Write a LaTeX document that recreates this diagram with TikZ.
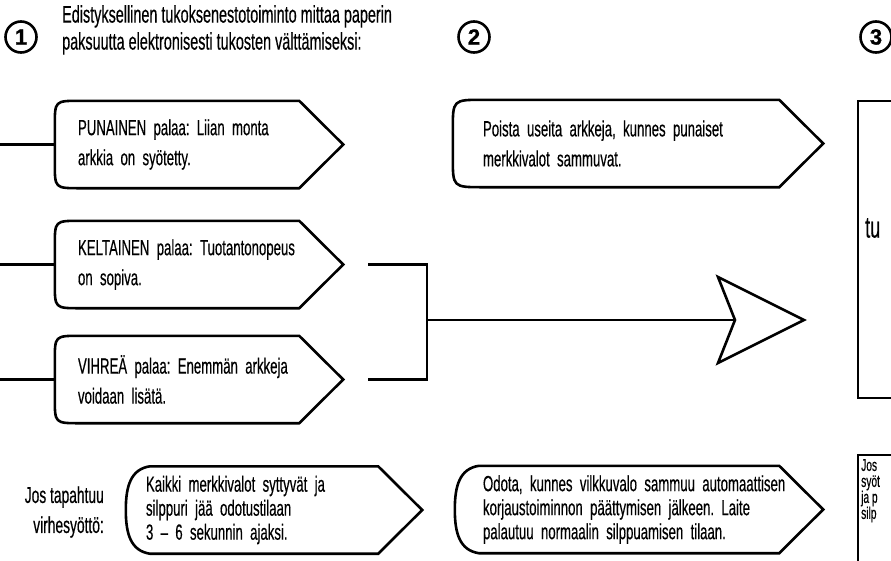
\documentclass[tikz,border=0pt]{standalone}
\usepackage{fontspec}
\setmainfont{Liberation Sans}[FakeStretch=0.6,FakeBold=0.4]
\newfontfamily\numfont{Liberation Sans}[FakeBold=1]
\frenchspacing
\usetikzlibrary{positioning,arrows.meta}

\tikzset{
  tagline/.style={line width=2.6pt, line join=miter},
  tagtext/.style={font=\fontsize{22}{30}\selectfont, align=left, inner ysep=0pt, minimum height=87pt},
  lowtext/.style={font=\fontsize{22}{24}\selectfont, align=left, inner ysep=0pt, minimum height=87pt},
  stepnum/.style={circle, draw, line width=2.6pt, minimum size=31pt, inner sep=0pt,
    font=\numfont\bfseries\fontsize{22}{22}\selectfont},
}
\newcommand\tagoutline[2]{%
  \draw[tagline] ([xshift=-44pt]#1.north east) -- (#1.east) -- ([xshift=-44pt]#1.south east)
    -- ([xshift=#2]#1.south west) .. controls (#1.south west) .. ([yshift=#2]#1.south west)
    -- ([yshift=-#2]#1.north west) .. controls (#1.north west) .. ([xshift=#2]#1.north west) -- cycle;}
\newcommand\tagoval[1]{%
  \draw[tagline] ([xshift=-44pt]#1.north east) -- (#1.east) -- ([xshift=-44pt]#1.south east)
    -- ([xshift=24pt]#1.south west) .. controls ([xshift=5pt,yshift=3pt]#1.south west) and ([yshift=-24pt]#1.west) .. (#1.west)
    .. controls ([yshift=24pt]#1.west) and ([xshift=5pt,yshift=-3pt]#1.north west) .. ([xshift=24pt]#1.north west) -- cycle;}

\begin{document}
\begin{tikzpicture}[x=1pt,y=-1pt]
  \useasboundingbox (0,0) rectangle (891,560);
  \node[stepnum] (s1) at (21,37) {1};
  \node[stepnum] (s2) at (474,37) {2};
  \node[stepnum] (s3) at (876,37) {3};
  \node[anchor=north west, align=left, inner sep=0pt, font=\fontsize{24}{27}\selectfont] (head) at (62,5)
    {Edistyksellinen tukoksenestotoiminto mittaa paperin\\paksuutta elektronisesti tukosten välttämiseksi:};

  \node[tagtext, text width=242pt, inner xsep=23pt] (pun) at (199,144.5) {PUNAINEN palaa: Liian monta\\arkkia on syötetty.};
  \node[tagtext, text width=242pt, inner xsep=23pt] (kel) at (199,264.5) {KELTAINEN palaa: Tuotantonopeus\\on sopiva.};
  \node[tagtext, text width=242pt, inner xsep=23pt] (vih) at (199,379.5) {VIHREÄ palaa: Enemmän arkkeja\\voidaan lisätä.};
  \tagoutline{pun}{25pt}
  \tagoutline{kel}{25pt}
  \tagoutline{vih}{25pt}

  \node[tagtext, text width=310pt, inner xsep=30pt] (poi) at (638,143.5) {Poista useita arkkeja, kunnes punaiset\\merkkivalot sammuvat.};
  \tagoutline{poi}{30pt}

  \coordinate (in1) at (0,144.5);
  \coordinate (in2) at (0,264.5);
  \coordinate (in3) at (0,379.5);
  \draw[tagline] (in1) -- (pun.west);
  \draw[tagline] (in2) -- (kel.west);
  \draw[tagline] (in3) -- (vih.west);

  \coordinate (b1) at (368,264.5);
  \coordinate (b2) at (368,379.5);
  \coordinate (bm) at (427,320);
  \coordinate (notch) at (735,320);
  \draw[tagline] (b1) -| (bm) |- (b2);
  \draw[tagline] (bm) -- (notch);
  \draw[tagline] (718,277) -- (804,320) -- (718,363) -- (notch) -- cycle;

  \draw[tagline] (858,101) rectangle (905,398);
  \node[anchor=west, inner sep=0pt, font=\fontsize{30}{30}\selectfont] (goal) at (865,228) {tu};

  \node[anchor=east, align=right, inner sep=0pt, font=\fontsize{23}{30}\selectfont] (err) at (104,512) {Jos tapahtuu\\virhesyöttö:};
  \node[lowtext, text width=256pt, inner xsep=20pt] (kai) at (274,510) {Kaikki merkkivalot syttyvät ja\\silppuri jää odotustilaan\\3 – 6 sekunnin ajaksi.};
  \tagoval{kai}
  \node[lowtext, text width=312pt, inner xsep=28pt] (odo) at (639,509.5) {Odota, kunnes vilkkuvalo sammuu automaattisen\\korjaustoiminnon päättymisen jälkeen. Laite\\palautuu normaalin silppuamisen tilaan.};
  \tagoval{odo}

  \draw[tagline] (858,455) rectangle (905,580);
  \node[anchor=north west, align=left, inner sep=0pt, font=\fontsize{17}{16}\selectfont] (note) at (861,459) {Jos\\syöt\\ja p\\silp};
\end{tikzpicture}
\end{document}
